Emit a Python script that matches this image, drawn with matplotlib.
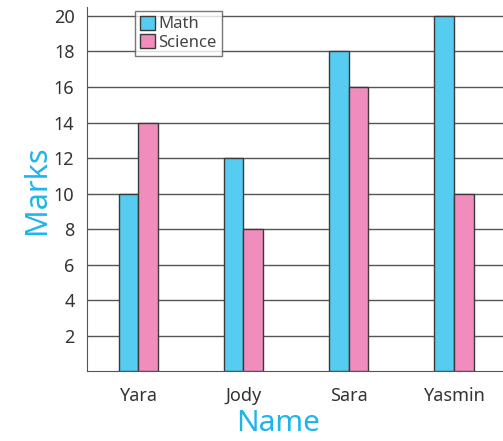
import matplotlib
matplotlib.use("Agg")
import matplotlib.pyplot as plt
import numpy as np

names = ["Yara", "Jody", "Sara", "Yasmin"]
math_marks = [10, 12, 18, 20]
science_marks = [14, 8, 16, 10]
yticks = [2, 4, 6, 8, 10, 12, 14, 16, 18, 20]

plt.rcParams["font.family"] = ["Noto Sans", "DejaVu Sans"]

fig = plt.figure(figsize=(5.03, 4.41), dpi=100)
ax = fig.add_axes([0.173, 0.158, 0.83, 0.826])

x = np.arange(len(names))
w = 0.186
ax.bar(x - w / 2, math_marks, w, color="#56cdf0", edgecolor="#3a3a3a",
       linewidth=1.0, label="Math", zorder=3)
ax.bar(x + w / 2, science_marks, w, color="#f08dbd", edgecolor="#3a3a3a",
       linewidth=1.0, label="Science", zorder=3)

ax.set_xlim(-0.486, 3.48)
ax.set_ylim(0, 20.5)
ax.set_yticks(yticks)
ax.set_xticks(x)
ax.set_xticklabels(names)
ax.yaxis.grid(True, color="#555555", linewidth=1.0, zorder=0)
ax.tick_params(axis="both", length=0, labelsize=13, labelcolor="#333333")
ax.tick_params(axis="y", pad=9)
ax.tick_params(axis="x", pad=11)
for side in ["top", "right"]:
    ax.spines[side].set_visible(False)
for side in ["left", "bottom"]:
    ax.spines[side].set_color("#555555")

ax.set_xlabel("Name", fontsize=21.5, color="#1fb5ea", va="baseline")
ax.xaxis.set_label_coords(0.458, -0.163)
ax.set_ylabel("Marks", fontsize=22, color="#1fb5ea", va="baseline")
ax.yaxis.set_label_coords(-0.10, 0.5)

leg = ax.legend(loc="upper left", bbox_to_anchor=(0.115, 0.99), fontsize=12,
                frameon=True, fancybox=False, edgecolor="#555555",
                handlelength=0.9, handleheight=0.9, handletextpad=0.2,
                borderpad=0.3, labelspacing=0.1, borderaxespad=0)
for t in leg.get_texts():
    t.set_color("#444444")
leg.get_frame().set_linewidth(1.0)

fig.savefig("out.png", dpi=100)
